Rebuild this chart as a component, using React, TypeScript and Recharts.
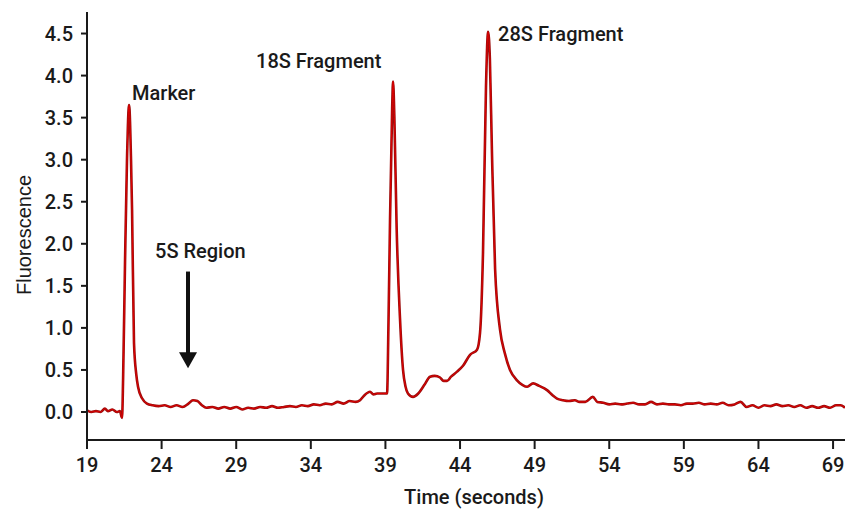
import { LineChart, Line, XAxis, YAxis, ReferenceDot, ReferenceLine } from 'recharts'

// electropherogram trace: time (s) vs fluorescence
const TIME = [
  19.0, 19.3, 19.6, 19.9, 20.2, 20.4, 20.7, 21.0, 21.2, 21.35, 21.42, 21.55, 21.68, 21.82, 21.95, 22.02,
  22.15, 22.3, 22.42, 22.7, 23.02, 23.4, 23.8, 24.2, 24.6, 25.0, 25.4, 25.8, 26.1, 26.4, 26.7, 27.0,
  27.4, 27.8, 28.2, 28.6, 29.0, 29.4, 29.8, 30.2, 30.6, 31.0, 31.4, 31.8, 32.2, 32.6, 33.0, 33.4,
  33.8, 34.2, 34.6, 35.0, 35.4, 35.8, 36.2, 36.6, 37.0, 37.3, 37.6, 37.97, 38.2, 38.44, 38.8, 39.11,
  39.2, 39.31, 39.45, 39.51, 39.6, 39.75, 39.98, 40.18, 40.35, 40.51, 40.85, 41.2, 41.6, 41.99, 42.3, 42.66,
  42.9, 43.13, 43.4, 43.8, 44.2, 44.67, 45.14, 45.34, 45.54, 45.74, 45.88, 46.0, 46.14, 46.35, 46.68, 47.0,
  47.35, 47.8, 48.2, 48.5, 48.9, 49.3, 49.83, 50.2, 50.5, 50.9, 51.3, 51.7, 52.0, 52.4, 52.9, 53.2,
  53.6, 54.0, 54.4, 54.8, 55.2, 55.6, 56.0, 56.4, 56.8, 57.2, 57.6, 58.0, 58.4, 58.8, 59.2, 59.6,
  60.0, 60.4, 60.8, 61.2, 61.6, 62.0, 62.4, 62.8, 63.2, 63.6, 64.0, 64.4, 64.8, 65.2, 65.6, 66.0,
  66.4, 66.8, 67.2, 67.6, 68.0, 68.4, 68.8, 69.2, 69.5, 69.8,
]
const FLUOR = [
  0.02, 0.0, 0.01, 0.0, 0.04, 0.01, 0.03, 0.0, 0.01, -0.07, 0.4, 1.8, 3.0, 3.65, 3.0, 2.4,
  0.82, 0.45, 0.3, 0.16, 0.1, 0.08, 0.07, 0.08, 0.06, 0.08, 0.06, 0.1, 0.14, 0.13, 0.08, 0.05,
  0.06, 0.04, 0.06, 0.04, 0.06, 0.03, 0.05, 0.04, 0.06, 0.05, 0.07, 0.05, 0.06, 0.07, 0.06, 0.08,
  0.07, 0.09, 0.08, 0.1, 0.09, 0.12, 0.1, 0.13, 0.12, 0.14, 0.2, 0.24, 0.21, 0.22, 0.22, 0.22,
  1.0, 2.3, 3.6, 3.93, 3.5, 2.2, 1.1, 0.5, 0.3, 0.22, 0.18, 0.22, 0.32, 0.42, 0.43, 0.41,
  0.37, 0.37, 0.42, 0.48, 0.55, 0.68, 0.74, 0.94, 1.9, 3.87, 4.52, 4.2, 3.08, 1.7, 0.98, 0.7,
  0.5, 0.38, 0.32, 0.3, 0.34, 0.31, 0.26, 0.2, 0.16, 0.14, 0.13, 0.14, 0.12, 0.12, 0.18, 0.12,
  0.11, 0.09, 0.1, 0.09, 0.1, 0.11, 0.09, 0.09, 0.12, 0.09, 0.1, 0.09, 0.09, 0.08, 0.1, 0.1,
  0.11, 0.09, 0.1, 0.09, 0.11, 0.08, 0.09, 0.12, 0.06, 0.08, 0.05, 0.08, 0.07, 0.09, 0.07, 0.08,
  0.06, 0.08, 0.05, 0.07, 0.05, 0.07, 0.05, 0.08, 0.08, 0.05,
]

const TIME_TICKS = [19, 24, 29, 34, 39, 44, 49, 54, 59, 64, 69]
const FLUOR_TICKS = [0, 0.5, 1, 1.5, 2, 2.5, 3, 3.5, 4, 4.5]

// peak annotations (text start + baseline, in data units)
const NOTE_TEXT = ['Marker', '18S Fragment', '28S Fragment', '5S Region']
const NOTE_X = [22.02, 30.33, 46.55, 23.56]
const NOTE_Y = [3.71, 4.09, 4.41, 1.83]

// arrow pointing down at the 5S region
const ARROW_X = 25.77
const ARROW_TOP = 1.67
const ARROW_TIP = 0.52

const FONT = 'Roboto, "Liberation Sans", Arial, sans-serif'
const PLAIN = '"Liberation Sans", Arial, sans-serif'
const INK = '#1a1a1a'

const data = TIME.map((t, i) => ({ t, f: FLUOR[i] }))

export default function App() {
  return (
    <div style={{ position: 'absolute', left: 0, top: 0, background: '#fff' }}>
      <LineChart width={845} height={509} data={data} margin={{ top: 12, right: 0, bottom: 0, left: 0 }}>
        <XAxis
          dataKey="t"
          type="number"
          domain={[19, 69.8]}
          allowDataOverflow
          ticks={TIME_TICKS}
          height={69}
          axisLine={{ stroke: INK, strokeWidth: 2 }}
          tickLine={{ stroke: INK, strokeWidth: 2 }}
          tickSize={9}
          tickMargin={9}
          tick={{ fill: INK, fontSize: 20, fontFamily: FONT, fontWeight: 500 }}
          label={({ viewBox }: any) => (
            <text x={viewBox.x + viewBox.width / 2 + 8} y={viewBox.y + 64} textAnchor="middle"
              fill={INK} fontSize={20} fontFamily={FONT} fontWeight={500}>Time (seconds)</text>
          )}
        />
        <YAxis
          type="number"
          domain={[-0.333, 4.756]}
          allowDataOverflow
          ticks={FLUOR_TICKS}
          width={87}
          axisLine={{ stroke: INK, strokeWidth: 2 }}
          tickLine={{ stroke: INK, strokeWidth: 2 }}
          tickSize={6}
          tickMargin={8}
          tick={{ fill: INK, fontSize: 20, fontFamily: FONT, fontWeight: 500 }}
          tickFormatter={(v: number) => v.toFixed(1)}
          label={() => (
            <text x={31} y={235} textAnchor="middle" transform="rotate(-90, 31, 235)"
              fill={INK} fontSize={20} fontFamily={PLAIN}>Fluorescence</text>
          )}
        />
        <Line type="monotone" dataKey="f" stroke="#9c0d0d" strokeWidth={2.6} dot={false} isAnimationActive={false} />
        <Line type="monotone" dataKey="f" stroke="#e00000" strokeWidth={1} dot={false} isAnimationActive={false} />
        <ReferenceLine
          segment={[{ x: ARROW_X, y: ARROW_TOP }, { x: ARROW_X, y: ARROW_TIP + 0.18 }]}
          stroke="#111"
          strokeWidth={4}
        />
        <ReferenceDot
          x={ARROW_X}
          y={ARROW_TIP}
          r={0}
          shape={(p: any) => (
            <polygon points={`${p.cx - 9},${p.cy - 16} ${p.cx + 9},${p.cy - 16} ${p.cx},${p.cy}`} fill="#111" />
          )}
        />
        {NOTE_TEXT.map((txt, i) => (
          <ReferenceDot
            key={txt}
            x={NOTE_X[i]}
            y={NOTE_Y[i]}
            r={0}
            shape={(p: any) => (
              <text x={p.cx} y={p.cy} fill={INK} fontSize={20} fontFamily={FONT} fontWeight={500}>{txt}</text>
            )}
          />
        ))}
      </LineChart>
    </div>
  )
}
